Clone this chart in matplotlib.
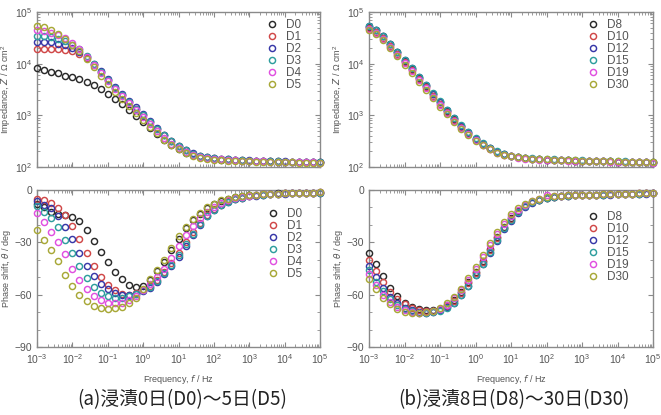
import numpy as np
import matplotlib
matplotlib.use("Agg")
import matplotlib.pyplot as plt
from matplotlib.ticker import LogLocator, FixedLocator, MultipleLocator, NullFormatter
from matplotlib.lines import Line2D

plt.rcParams['font.family'] = ['Liberation Sans', 'DejaVu Sans']
plt.rcParams['mathtext.default'] = 'regular'

# log10 of frequency / Hz (5 points per decade)
log_f = [-3.0, -2.8, -2.6, -2.4, -2.2, -2.0, -1.8, -1.6, -1.4, -1.2,
         -1.0, -0.8, -0.6, -0.4, -0.2, 0.0, 0.2, 0.4, 0.6, 0.8,
         1.0, 1.2, 1.4, 1.6, 1.8, 2.0, 2.2, 2.4, 2.6, 2.8,
         3.0, 3.2, 3.4, 3.6, 3.8, 4.0, 4.2, 4.4, 4.6, 4.8, 5.0]

labels_a = ['D0', 'D1', 'D2', 'D3', 'D4', 'D5']
labels_b = ['D8', 'D10', 'D12', 'D15', 'D19', 'D30']
colors = ['#2a2a2a', '#d04848', '#3838a8', '#2e9e9e', '#e050e0', '#a8a838']

# log10 |Z| (Ohm cm2), panel (a)
logZ_D0 = [3.91, 3.88, 3.84, 3.81, 3.77, 3.74, 3.70, 3.65, 3.59, 3.51, 3.42, 3.32, 3.21, 3.10,
           2.99, 2.87, 2.76, 2.64, 2.53, 2.43, 2.35, 2.28, 2.23, 2.19, 2.17, 2.15, 2.14, 2.13,
           2.13, 2.12, 2.12, 2.11, 2.11, 2.11, 2.10, 2.10, 2.10, 2.09, 2.09, 2.09, 2.09]
logZ_D1 = [4.29, 4.29, 4.28, 4.28, 4.27, 4.24, 4.19, 4.10, 3.97, 3.83, 3.68, 3.53, 3.39, 3.25,
           3.13, 3.00, 2.87, 2.73, 2.61, 2.50, 2.40, 2.32, 2.26, 2.22, 2.19, 2.17, 2.16, 2.15,
           2.14, 2.13, 2.12, 2.12, 2.11, 2.11, 2.11, 2.10, 2.10, 2.10, 2.09, 2.09, 2.09]
logZ_D2 = [4.42, 4.41, 4.41, 4.39, 4.36, 4.31, 4.23, 4.12, 3.99, 3.85, 3.70, 3.55, 3.41, 3.28,
           3.16, 3.02, 2.89, 2.75, 2.62, 2.51, 2.41, 2.33, 2.27, 2.22, 2.19, 2.17, 2.16, 2.15,
           2.14, 2.13, 2.13, 2.12, 2.12, 2.11, 2.11, 2.11, 2.10, 2.10, 2.10, 2.10, 2.09]
logZ_D3 = [4.54, 4.53, 4.51, 4.48, 4.44, 4.37, 4.28, 4.15, 3.99, 3.84, 3.68, 3.53, 3.39, 3.26,
           3.13, 3.00, 2.87, 2.73, 2.61, 2.50, 2.40, 2.32, 2.26, 2.22, 2.19, 2.17, 2.16, 2.15,
           2.14, 2.13, 2.12, 2.12, 2.11, 2.11, 2.11, 2.10, 2.10, 2.10, 2.09, 2.09, 2.09]
logZ_D4 = [4.65, 4.63, 4.60, 4.56, 4.50, 4.40, 4.28, 4.13, 3.97, 3.82, 3.66, 3.51, 3.37, 3.23,
           3.10, 2.96, 2.83, 2.69, 2.56, 2.45, 2.36, 2.29, 2.24, 2.20, 2.17, 2.16, 2.15, 2.14,
           2.13, 2.12, 2.12, 2.11, 2.11, 2.10, 2.10, 2.10, 2.09, 2.09, 2.09, 2.09, 2.08]
logZ_D5 = [4.72, 4.70, 4.65, 4.58, 4.48, 4.37, 4.24, 4.09, 3.93, 3.77, 3.61, 3.46, 3.32, 3.18,
           3.04, 2.91, 2.78, 2.65, 2.53, 2.43, 2.34, 2.27, 2.22, 2.18, 2.16, 2.14, 2.13, 2.12,
           2.12, 2.11, 2.11, 2.10, 2.10, 2.10, 2.09, 2.09, 2.09, 2.08, 2.08, 2.08, 2.08]

# phase (deg), panel (a)
ph_D0 = [-8, -10, -12.5, -14, -14.5, -15.5, -18, -23, -29, -35.5, -41.5, -47, -51, -54.5,
         -55.5, -55, -51.5, -46.5, -41, -34.5, -28, -22, -17, -13.5, -10.5, -8.1, -6.3, -5.1,
         -4.2, -3.6, -3.1, -2.7, -2.4, -2.2, -2.0, -1.9, -1.8, -1.7, -1.6, -1.5, -1.4]
ph_D1 = [-5, -6, -7.5, -10.5, -14.5, -20.5, -28, -36, -43.5, -50, -54.5, -57.5, -59.5, -60,
         -59, -57.5, -55, -51.5, -47, -42, -36, -30, -24, -19, -14.5, -11, -8.4, -6.5,
         -5.2, -4.3, -3.6, -3.1, -2.7, -2.4, -2.2, -2.0, -1.9, -1.8, -1.7, -1.6, -1.5]
ph_D2 = [-6.5, -8.5, -10.5, -15, -21, -28, -36, -43.5, -49.5, -54, -57, -59, -60, -60,
         -59.5, -58, -56, -52.5, -48, -43.5, -38.5, -32, -26, -20, -15, -11.5, -8.8, -6.8,
         -5.4, -4.4, -3.7, -3.2, -2.8, -2.5, -2.3, -2.1, -1.9, -1.8, -1.7, -1.6, -1.5]
ph_D3 = [-9, -12.5, -16, -21, -28.5, -36, -43.5, -50.5, -55.5, -59, -61, -62, -62, -61,
         -59.5, -57.5, -55.5, -52, -47.5, -43, -37.5, -31, -25, -19.5, -15, -11.3, -8.7, -6.7,
         -5.3, -4.3, -3.6, -3.1, -2.7, -2.4, -2.2, -2.0, -1.9, -1.8, -1.7, -1.6, -1.5]
ph_D4 = [-13, -18.5, -24, -30, -36.5, -45.5, -51.5, -57, -60.5, -63, -64.5, -65, -64.5, -63,
         -60.5, -57.5, -54, -50, -45, -39, -32, -26, -20.5, -16, -12.5, -9.5, -7.3, -5.7,
         -4.6, -3.8, -3.2, -2.8, -2.5, -2.3, -2.1, -1.9, -1.8, -1.7, -1.6, -1.5, -1.4]
ph_D5 = [-23, -28.5, -34.5, -40.5, -48.5, -55, -60, -63.5, -66.5, -67.5, -68, -67.5, -67, -65,
         -62, -57, -51, -46, -40, -33, -26.5, -21, -16.5, -13, -10, -7.8, -6, -4.9,
         -4, -3.4, -3.0, -2.7, -2.5, -2.3, -2.1, -1.9, -1.8, -1.7, -1.6, -1.5, -1.4]

# log10 |Z|, panel (b)
logZ_D8 = [4.71, 4.65, 4.53, 4.38, 4.22, 4.06, 3.90, 3.73, 3.57, 3.41, 3.25, 3.09, 2.93, 2.79,
           2.66, 2.54, 2.44, 2.36, 2.30, 2.25, 2.22, 2.19, 2.17, 2.16, 2.15, 2.14, 2.14, 2.13,
           2.13, 2.12, 2.12, 2.12, 2.11, 2.11, 2.11, 2.10, 2.10, 2.10, 2.10, 2.09, 2.09]
logZ_D10 = [4.69, 4.62, 4.50, 4.35, 4.19, 4.03, 3.87, 3.70, 3.54, 3.38, 3.22, 3.06, 2.91, 2.77,
            2.64, 2.53, 2.43, 2.35, 2.29, 2.24, 2.21, 2.19, 2.17, 2.16, 2.15, 2.14, 2.14, 2.13,
            2.13, 2.12, 2.12, 2.12, 2.11, 2.11, 2.11, 2.10, 2.10, 2.10, 2.10, 2.09, 2.09]
logZ_D12 = [4.72, 4.66, 4.54, 4.39, 4.23, 4.07, 3.91, 3.74, 3.58, 3.42, 3.26, 3.10, 2.94, 2.80,
            2.67, 2.55, 2.45, 2.36, 2.30, 2.25, 2.22, 2.19, 2.17, 2.16, 2.15, 2.14, 2.14, 2.13,
            2.13, 2.12, 2.12, 2.12, 2.11, 2.11, 2.11, 2.10, 2.10, 2.10, 2.09, 2.09, 2.08]
logZ_D15 = [4.73, 4.66, 4.54, 4.39, 4.23, 4.07, 3.91, 3.75, 3.59, 3.43, 3.27, 3.11, 2.95, 2.81,
            2.68, 2.56, 2.46, 2.37, 2.31, 2.26, 2.22, 2.20, 2.18, 2.17, 2.16, 2.15, 2.15, 2.14,
            2.14, 2.13, 2.13, 2.12, 2.12, 2.12, 2.11, 2.11, 2.11, 2.10, 2.10, 2.10, 2.09]
logZ_D19 = [4.67, 4.60, 4.48, 4.33, 4.17, 4.01, 3.85, 3.68, 3.52, 3.36, 3.20, 3.04, 2.89, 2.75,
            2.63, 2.52, 2.42, 2.34, 2.28, 2.24, 2.21, 2.18, 2.16, 2.15, 2.14, 2.14, 2.13, 2.13,
            2.12, 2.12, 2.12, 2.11, 2.11, 2.11, 2.10, 2.10, 2.10, 2.09, 2.09, 2.09, 2.08]
logZ_D30 = [4.65, 4.57, 4.45, 4.30, 4.14, 3.98, 3.82, 3.65, 3.49, 3.33, 3.17, 3.02, 2.87, 2.74,
            2.62, 2.51, 2.42, 2.34, 2.28, 2.24, 2.21, 2.19, 2.17, 2.16, 2.15, 2.15, 2.14, 2.14,
            2.13, 2.13, 2.12, 2.12, 2.12, 2.11, 2.11, 2.11, 2.10, 2.10, 2.10, 2.09, 2.09]

# phase (deg), panel (b)
ph_D8 = [-36, -42.5, -49.5, -56, -61, -64.5, -67, -68.5, -69, -69, -68, -66, -63, -58.5,
         -53, -47, -40.5, -34, -27, -21, -16, -12, -9, -7, -5.5, -4.5, -3.8, -3.4,
         -3.1, -2.9, -2.8, -2.7, -2.6, -2.5, -2.4, -2.3, -2.2, -2.1, -2.0, -1.9, -1.8]
ph_D10 = [-40, -46.5, -53, -58.5, -62.5, -65.5, -67.5, -69, -69.5, -69.5, -68.5, -66.5, -63.5, -59,
          -53.5, -47.5, -41, -34.5, -27.5, -21.5, -16.5, -12.5, -9.2, -7, -5.5, -4.6, -3.9, -3.5,
          -3.2, -3.0, -2.9, -2.8, -2.7, -2.6, -2.5, -2.4, -2.3, -2.2, -2.1, -2.0, -1.9]
ph_D12 = [-43.5, -50, -56, -61.5, -65, -67.5, -69, -70, -70.3, -70, -69, -67, -64.5, -60,
          -55, -49, -42.5, -36, -29, -22.5, -17.5, -13, -9.6, -7.3, -5.8, -4.8, -4.0, -3.6,
          -3.3, -3.1, -3.0, -2.9, -2.8, -2.7, -2.6, -2.5, -2.4, -2.3, -2.2, -2.1, -2.0]
ph_D15 = [-46, -52.5, -58, -62.5, -66, -68.3, -69.6, -70.3, -70.5, -70.2, -69.3, -67.5, -64.5, -60.3,
          -55, -49, -42.5, -35.5, -28.5, -22, -17, -12.7, -9.4, -7.1, -5.6, -4.7, -3.9, -3.5,
          -3.2, -3.0, -2.9, -2.8, -2.7, -2.6, -2.5, -2.4, -2.3, -2.2, -2.1, -2.0, -1.9]
ph_D19 = [-48, -54.5, -60, -64, -67, -69, -70, -70.3, -70, -69.3, -68, -65.7, -62, -57.5,
          -51.5, -45, -38.5, -31.5, -25, -19.5, -15, -11.3, -8.5, -6.5, -5.1, -3.0, -3.6, -3.3,
          -3.1, -2.9, -2.8, -2.7, -2.6, -2.5, -2.4, -2.3, -2.2, -2.1, -2.0, -1.9, -1.8]
ph_D30 = [-51, -56.5, -62, -65.5, -68.5, -70, -70.7, -70.7, -70.2, -69.2, -67.5, -65, -61.5, -56.5,
          -50.5, -44, -37.5, -30.5, -24, -18.5, -14, -10.6, -8, -6.2, -5, -4.2, -3.6, -3.3,
          -3.1, -2.9, -2.8, -2.7, -2.6, -2.5, -2.4, -2.3, -2.2, -2.1, -2.0, -1.9, -1.8]

Z_a = [logZ_D0, logZ_D1, logZ_D2, logZ_D3, logZ_D4, logZ_D5]
P_a = [ph_D0, ph_D1, ph_D2, ph_D3, ph_D4, ph_D5]
Z_b = [logZ_D8, logZ_D10, logZ_D12, logZ_D15, logZ_D19, logZ_D30]
P_b = [ph_D8, ph_D10, ph_D12, ph_D15, ph_D19, ph_D30]

caption_a = '(a)浸漬0日(D0)～5日(D5)'
caption_b = '(b)浸漬8日(D8)～30日(D30)'

x_major = [1e-3, 1e-2, 1e-1, 1e0, 1e1, 1e2, 1e3, 1e4, 1e5]
z_major = [1e2, 1e3, 1e4, 1e5]

W, H = 661, 415
fig = plt.figure(figsize=(W / 100, H / 100), dpi=100)

def fr(x0, y0, x1, y1):
    return [x0 / W, 1 - y1 / H, (x1 - x0) / W, (y1 - y0) / H]

ax_za = fig.add_axes(fr(37, 12, 320, 167))
ax_pa = fig.add_axes(fr(37, 190, 320, 347))
ax_zb = fig.add_axes(fr(369, 12, 653, 167))
ax_pb = fig.add_axes(fr(369, 190, 653, 347))

freq = 10.0 ** np.array(log_f)
spine_c = '#8a8a8a'
text_c = '#555555'
ms, mew = 4.4, 1.05

def style(ax, is_phase, show_xlabels):
    ax.set_xscale('log')
    ax.set_xlim(1e-3, 1e5)
    ax.xaxis.set_major_locator(FixedLocator(x_major))
    ax.xaxis.set_minor_locator(LogLocator(base=10, subs=np.arange(2, 10), numticks=100))
    if is_phase:
        ax.set_ylim(-90, 0)
        ax.yaxis.set_major_locator(MultipleLocator(30))
        ax.yaxis.set_minor_locator(MultipleLocator(10))
        ax.set_ylabel('Phase shift, $\\it{\\theta}$ / deg', fontsize=6.5, color=text_c, labelpad=1)
    else:
        ax.set_yscale('log')
        ax.set_ylim(1e2, 1e5)
        ax.yaxis.set_major_locator(FixedLocator(z_major))
        ax.yaxis.set_minor_locator(LogLocator(base=10, subs=np.arange(2, 10), numticks=100))
        ax.yaxis.set_minor_formatter(NullFormatter())
        ax.set_ylabel('Impedance, $\\it{Z}$ / Ω cm$^2$', fontsize=6.5, color=text_c, labelpad=1)
    for s in ax.spines.values():
        s.set_color(spine_c)
        s.set_linewidth(1.0)
    ax.tick_params(which='both', direction='in', top=True, right=True, colors=spine_c,
                   labelcolor=text_c, labelsize=7.5)
    ax.tick_params(which='major', length=3.5, width=0.8)
    ax.tick_params(which='minor', length=2, width=0.6)
    ax.xaxis.set_minor_formatter(NullFormatter())
    if show_xlabels:
        ax.set_xlabel('Frequency, $\\it{f}$ / Hz', fontsize=6.5, color=text_c, labelpad=5)
    else:
        ax.tick_params(axis='x', which='both', labelbottom=False)

def draw(ax, series, labels, legend_anchor, logvals):
    handles = []
    for vals, lab, c in zip(series, labels, colors):
        y = 10.0 ** np.array(vals) if logvals else np.array(vals)
        ax.plot(freq, y, linestyle='none', marker='o', ms=ms, mew=mew, mfc='none',
                mec=c, clip_on=False, zorder=3)
        handles.append(Line2D([], [], linestyle='none', marker='o', ms=ms, mew=mew,
                              mfc='none', mec=c, label=lab))
    leg = ax.legend(handles=handles, loc='upper left', bbox_to_anchor=legend_anchor,
                    frameon=False, borderpad=0, borderaxespad=0, handlelength=0.8,
                    handletextpad=0.75, labelspacing=0.0, fontsize=8.5)
    for t in leg.get_texts():
        t.set_color(text_c)

style(ax_za, False, False)
style(ax_pa, True, True)
style(ax_zb, False, False)
style(ax_pb, True, True)

draw(ax_za, Z_a, labels_a, (0.815, 0.955), True)
draw(ax_pa, P_a, labels_a, (0.818, 0.885), False)
draw(ax_zb, Z_b, labels_b, (0.772, 0.955), True)
draw(ax_pb, P_b, labels_b, (0.772, 0.865), False)

cjk = ['Noto Sans CJK JP', 'DejaVu Sans']
fig.text(182.5 / W, 1 - 400 / H, caption_a, ha='center', va='center', fontsize=13.5,
         family=cjk, color='#222222')
fig.text(513.5 / W, 1 - 400 / H, caption_b, ha='center', va='center', fontsize=13.5,
         family=cjk, color='#222222')

fig.savefig('out.png', dpi=100)
